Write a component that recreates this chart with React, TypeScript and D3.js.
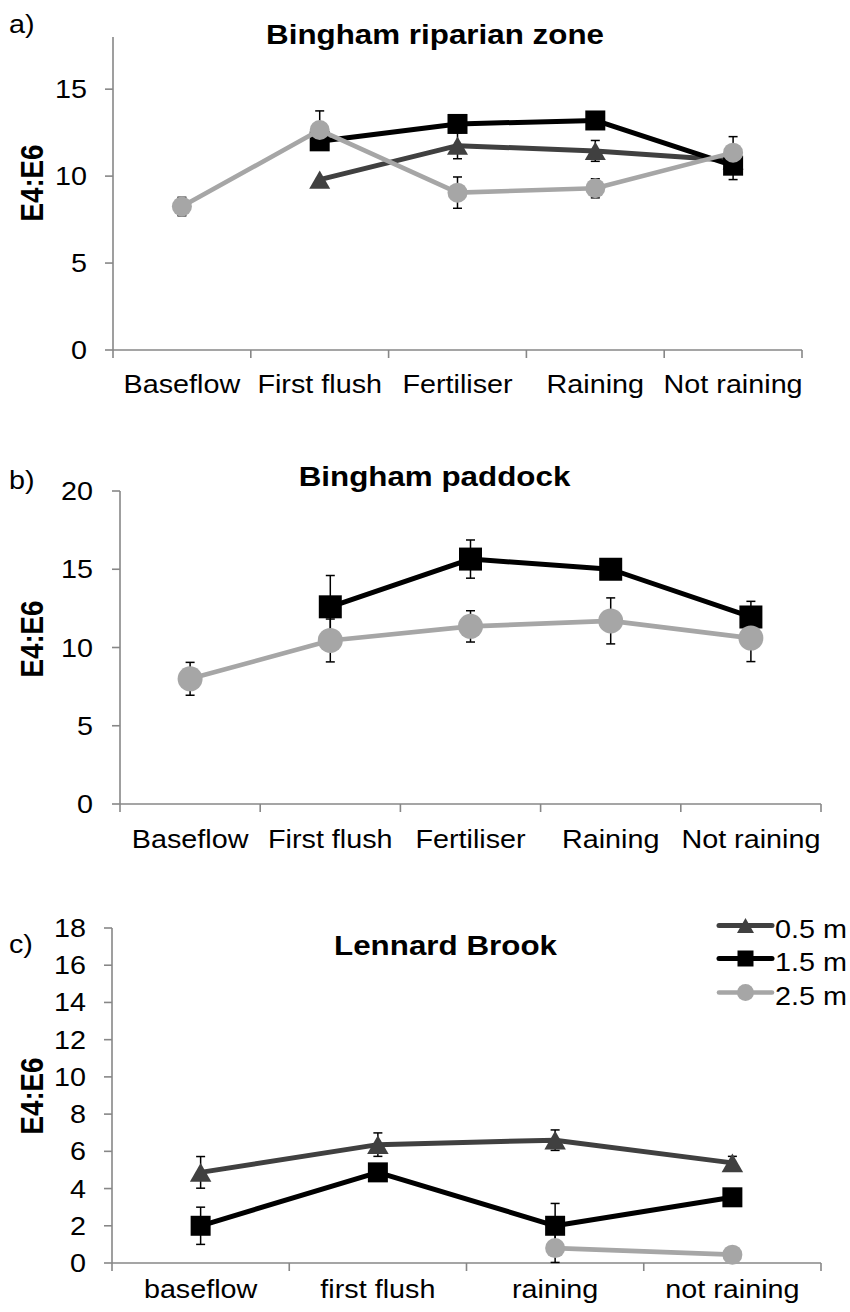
import React from 'react';
import * as d3 from 'd3';

// ---- data ----
const depths = ['0.5 m', '1.5 m', '2.5 m'];

const riparianCats = ['Baseflow', 'First flush', 'Fertiliser', 'Raining', 'Not raining'];
const riparian05 = [null, 9.8, 11.75, 11.45, 10.9];
const riparian05Err = [null, null, 0.75, 0.6, null];
const riparian15 = [null, 12.0, 13.0, 13.2, 10.6];
const riparian15Err = [null, null, null, null, 0.8];
const riparian25 = [8.25, 12.65, 9.05, 9.3, 11.35];
const riparian25Err = [0.53, 1.1, 0.9, 0.55, 0.92];
const riparianTicks = [0, 5, 10, 15];

const paddockCats = ['Baseflow', 'First flush', 'Fertiliser', 'Raining', 'Not raining'];
const paddock15 = [null, 12.6, 15.65, 15.0, 11.95];
const paddock15Err = [null, 2.0, 1.22, 0.3, 1.0];
const paddock25 = [8.0, 10.45, 11.35, 11.7, 10.6];
const paddock25Err = [1.05, 1.37, 1.0, 1.47, 1.5];
const paddockTicks = [0, 5, 10, 15, 20];

const lennardCats = ['baseflow', 'first flush', 'raining', 'not raining'];
const lennard05 = [4.87, 6.36, 6.6, 5.38];
const lennard05Err = [0.85, 0.63, 0.55, 0.35];
const lennard15 = [2.0, 4.87, 2.0, 3.53];
const lennard15Err = [1.0, null, 1.2, null];
const lennard25 = [null, null, 0.8, 0.45];
const lennard25Err = [null, null, 0.77, null];
const lennardTicks = [0, 2, 4, 6, 8, 10, 12, 14, 16, 18];

// ---- styling ----
const FONT = '"Liberation Sans", Arial, Helvetica, sans-serif';
const AXIS = '#878787';
const SX = 1.15;

const seriesStyle: Record<string, { color: string; width: number; shape: string }> = {
  '0.5 m': { color: '#404040', width: 5, shape: 'triangle' },
  '1.5 m': { color: '#000000', width: 5, shape: 'square' },
  '2.5 m': { color: '#a6a6a6', width: 4.6, shape: 'circle' },
};

// triangle centred on its bounding box; size = width^2
const triangleBox = {
  draw(ctx: any, size: number) {
    const s = Math.sqrt(size);
    const h = s * 0.87;
    ctx.moveTo(0, -h / 2);
    ctx.lineTo(s / 2, h / 2);
    ctx.lineTo(-s / 2, h / 2);
    ctx.closePath();
  },
};

function markerPath(shape: string, w: number) {
  if (shape === 'triangle') return d3.symbol(triangleBox as any, w * w)()!;
  if (shape === 'square') return d3.symbol(d3.symbolSquare, w * w)()!;
  return d3.symbol(d3.symbolCircle, Math.PI * (w / 2) * (w / 2))()!;
}

function Txt(props: {
  x: number; y: number; children: any; anchor?: string; size?: number;
  bold?: boolean; sx?: number; rotate?: number;
}) {
  const { x, y, children, anchor = 'middle', size = 25, bold = false, sx = SX, rotate = 0 } = props;
  const tr = `translate(${x},${y}) scale(${sx},1)` + (rotate ? ` rotate(${rotate})` : '');
  return (
    <text transform={tr} textAnchor={anchor} fontSize={size} fontFamily={FONT}
      fontWeight={bold ? 'bold' : 'normal'} fill="#000">
      {children}
    </text>
  );
}

type Series = { name: string; values: (number | null)[]; errs: (number | null)[] };

function Panel(props: {
  letter: string; letterY: number; title: string; titleX: number; titleY: number;
  cats: string[]; series: Series[]; ticks: number[]; yMax: number;
  left: number; right: number; top: number; bottom: number;
  catLabelY: number; ylabelX: number; ylabelY: number; tickLabelX: number;
  markerW: Record<string, number>;
}) {
  const p = props;
  const x = d3.scaleBand<string>().domain(p.cats).range([p.left, p.right]).paddingInner(0).paddingOuter(0);
  const y = d3.scaleLinear().domain([0, p.yMax]).range([p.bottom, p.top]);
  const cx = (c: string) => (x(c) as number) + x.bandwidth() / 2;
  const bounds = p.cats.map((c) => x(c) as number).concat([p.right]);

  return (
    <g>
      <Txt x={9} y={p.letterY} anchor="start">{p.letter}</Txt>
      <Txt x={p.titleX} y={p.titleY} bold size={28} sx={1.12}>{p.title}</Txt>
      <Txt x={p.ylabelX} y={p.ylabelY} bold size={27.7} sx={1.1} rotate={-90}>E4:E6</Txt>

      {/* axes */}
      <line x1={p.left} x2={p.left} y1={p.top} y2={p.bottom} stroke={AXIS} strokeWidth={1.6} />
      <line x1={p.left} x2={p.right} y1={p.bottom} y2={p.bottom} stroke={AXIS} strokeWidth={1.6} />
      {p.ticks.map((t) => (
        <g key={'yt' + t}>
          <line x1={p.left - 8} x2={p.left} y1={y(t)} y2={y(t)} stroke={AXIS} strokeWidth={1.6} />
          <Txt x={p.tickLabelX} y={y(t) + 9} anchor="end">{String(t)}</Txt>
        </g>
      ))}
      {bounds.map((b, i) => (
        <line key={'xt' + i} x1={b} x2={b} y1={p.bottom} y2={p.bottom + 8} stroke={AXIS} strokeWidth={1.6} />
      ))}
      {p.cats.map((c) => (
        <Txt key={'cl' + c} x={cx(c)} y={p.catLabelY}>{c}</Txt>
      ))}

      {/* series: line, error bars, markers */}
      {p.series.map((s) => {
        const st = seriesStyle[s.name];
        const pts = p.cats.map((c, i) => ({ c, v: s.values[i], e: s.errs[i] }));
        const line = d3
          .line<{ c: string; v: number | null }>()
          .defined((d) => d.v != null)
          .x((d) => cx(d.c))
          .y((d) => y(d.v as number));
        const mw = p.markerW[s.name];
        const mpath = markerPath(st.shape, mw);
        return (
          <g key={s.name}>
            <path d={line(pts) || ''} fill="none" stroke={st.color} strokeWidth={st.width}
              strokeLinejoin="round" strokeLinecap="round" />
            {pts.filter((d) => d.v != null && d.e != null).map((d) => {
              const xx = cx(d.c);
              const y1 = y((d.v as number) + (d.e as number));
              const y2 = y((d.v as number) - (d.e as number));
              return (
                <g key={'e' + d.c} stroke="#000" strokeWidth={1.5}>
                  <line x1={xx} x2={xx} y1={y1} y2={y2} />
                  <line x1={xx - 4.5} x2={xx + 4.5} y1={y1} y2={y1} />
                  <line x1={xx - 4.5} x2={xx + 4.5} y1={y2} y2={y2} />
                </g>
              );
            })}
            {pts.filter((d) => d.v != null).map((d) => (
              <path key={'m' + d.c} d={mpath} fill={st.color}
                transform={`translate(${cx(d.c)},${y(d.v as number)})`} />
            ))}
          </g>
        );
      })}
    </g>
  );
}

function Legend(props: { x1: number; x2: number; ys: number[] }) {
  const { x1, x2, ys } = props;
  const mx = (x1 + x2) / 2;
  const mw: Record<string, number> = { '0.5 m': 17, '1.5 m': 16, '2.5 m': 17 };
  return (
    <g>
      {depths.map((name, i) => {
        const st = seriesStyle[name];
        return (
          <g key={name}>
            <line x1={x1} x2={x2} y1={ys[i]} y2={ys[i]} stroke={st.color} strokeWidth={st.width}
              strokeLinecap="round" />
            <path d={markerPath(st.shape, mw[name])} fill={st.color}
              transform={`translate(${mx},${ys[i]})`} />
            <Txt x={x2 + 3} y={ys[i] + 12} anchor="start">{name}</Txt>
          </g>
        );
      })}
    </g>
  );
}

export default function App() {
  return (
    <svg width={850} height={1312} viewBox="0 0 850 1312"
      style={{ position: 'absolute', left: 0, top: 0, background: '#fff' }}>
      <rect x={0} y={0} width={850} height={1312} fill="#fff" />
      <Panel
        letter="a)" letterY={33} title="Bingham riparian zone" titleX={435} titleY={44}
        cats={riparianCats}
        series={[
          { name: '0.5 m', values: riparian05, errs: riparian05Err },
          { name: '1.5 m', values: riparian15, errs: riparian15Err },
          { name: '2.5 m', values: riparian25, errs: riparian25Err },
        ]}
        ticks={riparianTicks} yMax={18}
        left={113} right={802} top={37} bottom={350}
        catLabelY={393} ylabelX={43} ylabelY={183} tickLabelX={87}
        markerW={{ '0.5 m': 21, '1.5 m': 20, '2.5 m': 20 }}
      />
      <Panel
        letter="b)" letterY={489} title="Bingham paddock" titleX={434.5} titleY={486}
        cats={paddockCats}
        series={[
          { name: '1.5 m', values: paddock15, errs: paddock15Err },
          { name: '2.5 m', values: paddock25, errs: paddock25Err },
        ]}
        ticks={paddockTicks} yMax={20}
        left={120} right={821} top={491} bottom={804}
        catLabelY={848} ylabelX={43} ylabelY={639} tickLabelX={93}
        markerW={{ '0.5 m': 21, '1.5 m': 23, '2.5 m': 25 }}
      />
      <Panel
        letter="c)" letterY={953} title="Lennard Brook" titleX={445.5} titleY={955}
        cats={lennardCats}
        series={[
          { name: '0.5 m', values: lennard05, errs: lennard05Err },
          { name: '1.5 m', values: lennard15, errs: lennard15Err },
          { name: '2.5 m', values: lennard25, errs: lennard25Err },
        ]}
        ticks={lennardTicks} yMax={18}
        left={112} right={821} top={928} bottom={1263}
        catLabelY={1298} ylabelX={43} ylabelY={1096} tickLabelX={86}
        markerW={{ '0.5 m': 21.5, '1.5 m': 20, '2.5 m': 20 }}
      />
      <Legend x1={719} x2={772} ys={[925.5, 958.5, 992.5]} />
    </svg>
  );
}
